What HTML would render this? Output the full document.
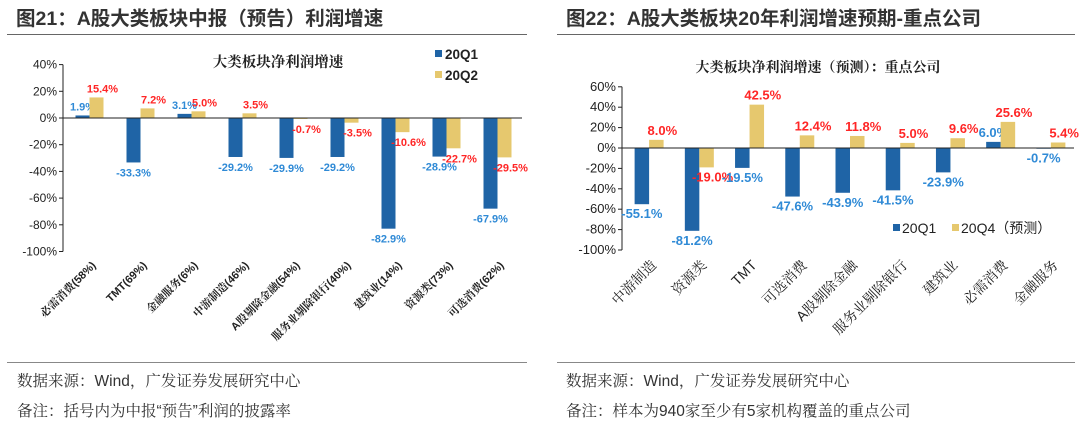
<!DOCTYPE html>
<html><head><meta charset="utf-8">
<style>
body{margin:0;width:1080px;height:431px;background:#fff;overflow:hidden;font-family:"Liberation Sans","Noto Sans CJK SC",sans-serif;}
svg{position:absolute;left:0;top:0}
</style></head>
<body>
<svg id="s" width="1080" height="431" xmlns="http://www.w3.org/2000/svg">
<text x="16" y="25" font-size="19.5" font-weight="bold" fill="#333" font-family="Liberation Sans,Noto Sans CJK SC,sans-serif">图21：A股大类板块中报（预告）利润增速</text>
<text x="566" y="25" font-size="19.5" font-weight="bold" fill="#333" font-family="Liberation Sans,Noto Sans CJK SC,sans-serif">图22：A股大类板块20年利润增速预期-重点公司</text>
<line x1="7" y1="34.5" x2="527" y2="34.5" stroke="#666"/>
<line x1="557" y1="34.5" x2="1075" y2="34.5" stroke="#666"/>
<line x1="7" y1="362.5" x2="527" y2="362.5" stroke="#888"/>
<line x1="557" y1="362.5" x2="1075" y2="362.5" stroke="#888"/>
<text x="17" y="386" font-size="15.5" fill="#333" font-family="Liberation Sans,Noto Serif CJK SC,sans-serif">数据来源：Wind，广发证券发展研究中心</text>
<text x="17" y="416" font-size="15.5" fill="#333" font-family="Liberation Sans,Noto Serif CJK SC,sans-serif">备注：括号内为中报“预告”利润的披露率</text>
<text x="566" y="386" font-size="15.5" fill="#333" font-family="Liberation Sans,Noto Serif CJK SC,sans-serif">数据来源：Wind，广发证券发展研究中心</text>
<text x="566" y="416" font-size="15.5" fill="#333" font-family="Liberation Sans,Noto Serif CJK SC,sans-serif">备注：样本为940家至少有5家机构覆盖的重点公司</text>
<text x="278" y="67" font-size="14.5" font-weight="bold" text-anchor="middle" fill="#222" font-family="Noto Serif CJK SC,serif">大类板块净利润增速</text>
<text x="818" y="72" font-size="14" font-weight="bold" text-anchor="middle" fill="#222" font-family="Noto Serif CJK SC,serif">大类板块净利润增速（预测）：重点公司</text>
</svg>
<script>
const leftCats=["必需消费(58%)","TMT(69%)","金融服务(6%)","中游制造(46%)","A股剔除金融(54%)","服务业剔除银行(40%)","建筑业(14%)","资源类(73%)","可选消费(62%)"];
const leftQ1=[1.9,-33.3,3.1,-29.2,-29.9,-29.2,-82.9,-28.9,-67.9];
const leftQ2=[15.4,7.2,5.0,3.5,-0.7,-3.5,-10.6,-22.7,-29.5];
const leftTicks=[40,20,0,-20,-40,-60,-80,-100];
const rightCats=["中游制造","资源类","TMT","可选消费","A股剔除金融","服务业剔除银行","建筑业","必需消费","金融服务"];
const rightQ1=[-55.1,-81.2,-19.5,-47.6,-43.9,-41.5,-23.9,6.0,-0.7];
const rightQ4=[8.0,-19.0,42.5,12.4,11.8,5.0,9.6,25.6,5.4];
const rightTicks=[60,40,20,0,-20,-40,-60,-80,-100];
const NS="http://www.w3.org/2000/svg",svg=document.getElementById('s');
const BLUE="#1f64a6",GOLD="#e6c86e";
function mk(t,a,txt){const e=document.createElementNS(NS,t);for(const k in a)e.setAttribute(k,a[k]);if(txt!=null)e.textContent=txt;svg.appendChild(e);return e;}
function chart(o){
  const y=v=>o.y0-(v/20)*o.step;
  const x0=o.ax, cw=(o.x1-o.ax)/o.cats.length;
  const ax=mk('line',{x1:x0,y1:y(o.ticks[0]),x2:x0,y2:y(o.ticks[o.ticks.length-1]),stroke:'#222'});
  
  o.ticks.forEach(t=>{
    const l=mk('line',{x1:x0-4,y1:y(t),x2:x0,y2:y(t),stroke:'#222'});
    
    const tx=mk('text',{x:x0-6,y:y(t)+4,'font-size':o.tf,'text-anchor':'end',fill:'#222'},t+'%');
    
  });
  o.cats.forEach((c,i)=>{
    const cx=x0+cw*(i+0.5);
    [[o.s1,BLUE,-1],[o.s2,GOLD,0]].forEach(([s,col,off],k)=>{
      const v=s[i],bx=cx+off*o.bw+o.sh,top=Math.min(y(v),y(0)),h=Math.abs(y(v)-y(0));
      const r=mk('rect',{x:bx,y:top,width:o.bw,height:Math.max(h,0.5),fill:col});
      
      const lx=bx+o.bw/2+(k?6:0);
      const ly=v>=0?y(v)-5:y(v)+14;
      const tx=mk('text',{x:lx,y:ly,'font-size':o.lf,'font-weight':'bold','text-anchor':'middle',fill:k?'#ff2626':'#2f8ad6'},v.toFixed(1)+'%');
      
    });
    const lb=mk('text',{x:cx+o.lxo,y:o.ly,'font-size':o.cf,'font-weight':o.p=='left'?'bold':'normal','text-anchor':'end',fill:'#222',transform:`rotate(-45 ${cx+o.lxo} ${o.ly})`,'font-family':'Liberation Sans,Noto Serif CJK SC,serif'},c);
    
  });
  const zl=mk('line',{x1:x0,y1:y(0),x2:o.x1,y2:y(0),stroke:'#222'});
  
}
chart({p:'left',cats:leftCats,s1:leftQ1,s2:leftQ2,ticks:leftTicks,ax:63,x1:522,y0:118,step:26.7,bw:14,sh:1,lf:11,cf:11,tf:12,lxo:8,ly:266});
chart({p:'right',cats:rightCats,s1:rightQ1,s2:rightQ4,ticks:rightTicks,ax:622,x1:1074,y0:148,step:20.4,bw:14.5,sh:2,lf:13,cf:14,tf:13,lxo:10,ly:266});
[[435,56,BLUE,'20Q1'],[435,77,GOLD,'20Q2']].forEach(([lx,ly,c,t],i)=>{
  const r=mk('rect',{x:lx,y:ly-6,width:7,height:7,fill:c});
  const tx=mk('text',{x:lx+10,y:ly+3,'font-size':13.5,'font-weight':'bold',fill:'#222'},t);
});
[[893,232,BLUE,'20Q1'],[952,232,GOLD,'20Q4（预测）']].forEach(([lx,ly,c,t])=>{
  const r=mk('rect',{x:lx,y:ly-8,width:7,height:7,fill:c});
  const tx=mk('text',{x:lx+9,y:ly+1,'font-size':14,fill:'#222'},t);
});
</script>
</body></html>
